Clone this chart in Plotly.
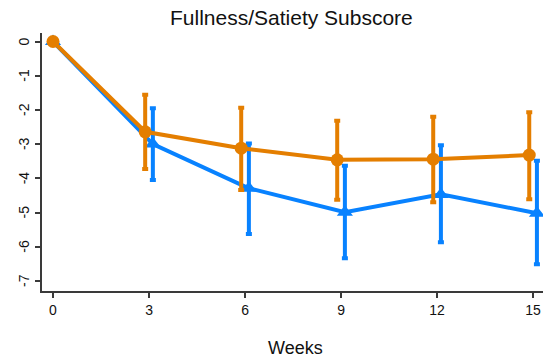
import plotly.graph_objects as go

# Mean change in Fullness/Satiety subscore by week, with asymmetric error bars
weeks = [0, 3, 6, 9, 12, 15]

orange_mean = [0.0, -2.64, -3.12, -3.46, -3.44, -3.32]
orange_upper = [0.0, -1.56, -1.94, -2.32, -2.20, -2.07]
orange_lower = [0.0, -3.73, -4.34, -4.63, -4.70, -4.61]

blue_mean = [0.0, -3.00, -4.29, -4.99, -4.47, -5.02]
blue_upper = [0.0, -1.95, -2.98, -3.63, -3.03, -3.49]
blue_lower = [0.0, -4.05, -5.63, -6.34, -5.87, -6.51]

x_ticks = [0, 3, 6, 9, 12, 15]
y_ticks = [0, -1, -2, -3, -4, -5, -6, -7]

ORANGE = "rgb(228,126,0)"
BLUE = "rgb(8,130,255)"
FONT = "Arial, Liberation Sans, sans-serif"

# small horizontal dodge so the two groups' error bars don't overlap
DODGE = 0.12


def dodge(ws, d):
    return [w + d if w else w for w in ws]


def trace(ws, mean, upper, lower, color, symbol, size):
    return go.Scatter(
        x=ws,
        y=mean,
        mode="lines+markers",
        line=dict(color=color, width=4),
        marker=dict(color=color, symbol=symbol, size=size, line=dict(width=0)),
        error_y=dict(
            type="data",
            symmetric=False,
            array=[u - m for u, m in zip(upper, mean)],
            arrayminus=[m - l for m, l in zip(mean, lower)],
            color=color,
            thickness=4,
            width=3,
        ),
        showlegend=False,
        hoverinfo="skip",
    )


fig = go.Figure()
fig.add_trace(trace(dodge(weeks, DODGE), blue_mean, blue_upper, blue_lower, BLUE, "triangle-up", 14))
fig.add_trace(trace(dodge(weeks, -DODGE), orange_mean, orange_upper, orange_lower, ORANGE, "circle", 13))

axis_common = dict(
    showline=True,
    linecolor="#3a3a3a",
    linewidth=1.5,
    ticks="outside",
    ticklen=5,
    tickwidth=1.5,
    tickcolor="#3a3a3a",
    showgrid=False,
    zeroline=False,
    tickfont=dict(family=FONT, size=14, color="#111"),
)

# vertical (rotated) y tick labels, set a little closer to the axis
y_labels = [
    dict(
        text=str(v),
        xref="paper", yref="y",
        x=0, y=v,
        xshift=-18,
        xanchor="center", yanchor="middle",
        textangle=-90,
        showarrow=False,
        font=dict(family=FONT, size=14, color="#111"),
    )
    for v in y_ticks
]

fig.update_layout(
    width=543,
    height=358,
    margin=dict(l=42, r=0, t=33, b=67),
    paper_bgcolor="white",
    plot_bgcolor="white",
    font=dict(family=FONT, color="#111"),
    xaxis=dict(
        range=[-0.344, 15.31],
        tickvals=x_ticks,
        ticktext=[str(v) for v in x_ticks],
        **axis_common,
    ),
    yaxis=dict(
        range=[-7.295, 0.249],
        tickvals=y_ticks,
        showticklabels=False,
        **axis_common,
    ),
    annotations=y_labels + [
        dict(
            text="Fullness/Satiety Subscore",
            xref="paper", yref="paper",
            x=(291.5 - 42) / 501, y=(291 - 18) / 258,
            xanchor="center", yanchor="middle",
            showarrow=False,
            font=dict(family=FONT, size=21, color="#111"),
        ),
        dict(
            text="Weeks",
            xref="paper", yref="paper",
            x=(295.5 - 42) / 501, y=(291 - 348) / 258,
            xanchor="center", yanchor="middle",
            showarrow=False,
            font=dict(family=FONT, size=18, color="#111"),
        ),
    ],
)

fig.write_html("out.html")
